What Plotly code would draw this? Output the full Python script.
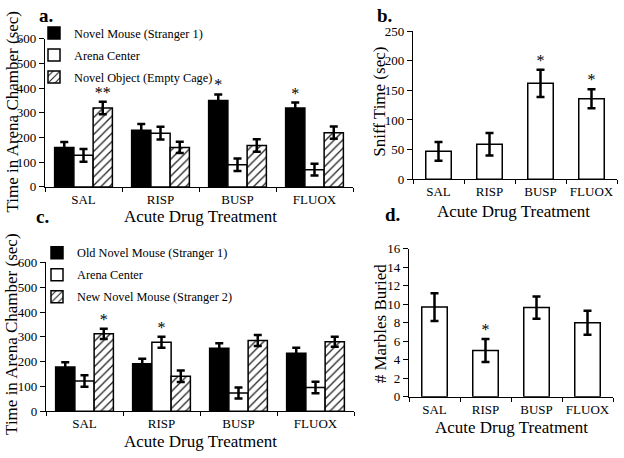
import numpy as np
import plotly.graph_objects as go

# ---------------- data ----------------
categories = ["SAL", "RISP", "BUSP", "FLUOX"]

# Panel a
a_names = ["Novel Mouse (Stranger 1)", "Arena Center", "Novel Object (Empty Cage)"]
a_mouse = [160, 230, 350, 320]
a_mouse_err = [22, 25, 25, 22]
a_center = [128, 218, 90, 70]
a_center_err = [26, 26, 25, 24]
a_object = [320, 160, 168, 220]
a_object_err = [25, 23, 25, 25]
a_marks_mouse = ["", "", "*", "*"]
a_marks_center = ["", "", "", ""]
a_marks_object = ["**", "", "", ""]

# Panel b
b_sniff = [47, 59, 162, 136]
b_sniff_err = [16, 19, 23, 16]
b_marks = ["", "", "*", "*"]

# Panel c
c_names = ["Old Novel Mouse (Stranger 1)", "Arena Center", "New Novel Mouse (Stranger 2)"]
c_old = [178, 192, 254, 234]
c_old_err = [20, 20, 20, 22]
c_center = [122, 278, 74, 96]
c_center_err = [23, 22, 22, 23]
c_new = [312, 141, 285, 280]
c_new_err = [21, 23, 22, 20]
c_marks_old = ["", "", "", ""]
c_marks_center = ["", "*", "", ""]
c_marks_new = ["*", "", "", ""]

# Panel d
d_marbles = [9.7, 5.0, 9.65, 8.0]
d_marbles_err = [1.5, 1.25, 1.2, 1.3]
d_marks = ["", "*", "", ""]

# ---------------- style ----------------
FONT = "Liberation Serif"
W, H = 624, 458
idx = np.arange(len(categories))
offsets = [-0.25, 0.0, 0.25]
grp_w = 0.25
single_w = 0.5

solid = dict(color="black", line=dict(color="black", width=1.5))
empty = dict(color="white", line=dict(color="black", width=1.5))
hatch = dict(color="white", line=dict(color="black", width=1.5),
             pattern=dict(shape="/", fgcolor="#222", bgcolor="white", size=6, solidity=0.22,
                          fillmode="replace"))
styles = [solid, empty, hatch]

def err(arr):
    return dict(type="data", array=arr, color="black", thickness=2.5, width=4)

fig = go.Figure()

def add_group(names, vals, errs, marks, xa, ya, legend):
    for k in range(3):
        xs = idx + offsets[k]
        fig.add_trace(go.Bar(x=xs, y=vals[k], width=grp_w, name=names[k], marker=styles[k],
                             error_y=err(errs[k]), xaxis=xa, yaxis=ya, legend=legend,
                             legendgroup=legend + str(k)))
        fig.add_trace(go.Scatter(x=xs, y=np.array(vals[k]) + np.array(errs[k]), mode="text",
                                 text=marks[k], textposition="top center",
                                 textfont=dict(family=FONT, size=16, color="black"),
                                 xaxis=xa, yaxis=ya, showlegend=False, hoverinfo="skip"))

def add_single(vals, errs, marks, xa, ya):
    fig.add_trace(go.Bar(x=idx, y=vals, width=single_w, marker=empty, error_y=err(errs),
                         xaxis=xa, yaxis=ya, showlegend=False))
    fig.add_trace(go.Scatter(x=idx, y=np.array(vals) + np.array(errs), mode="text",
                             text=marks, textposition="top center",
                             textfont=dict(family=FONT, size=16, color="black"),
                             xaxis=xa, yaxis=ya, showlegend=False, hoverinfo="skip"))

add_group(a_names, [a_mouse, a_center, a_object], [a_mouse_err, a_center_err, a_object_err],
          [a_marks_mouse, a_marks_center, a_marks_object], "x", "y", "legend")
add_single(b_sniff, b_sniff_err, b_marks, "x2", "y2")
add_group(c_names, [c_old, c_center, c_new], [c_old_err, c_center_err, c_new_err],
          [c_marks_old, c_marks_center, c_marks_new], "x3", "y3", "legend2")
add_single(d_marbles, d_marbles_err, d_marks, "x4", "y4")

def px_dom(a, b, total):
    return [a / total, b / total]

def ydom(bottom_px, top_px):
    return [1 - bottom_px / H, 1 - top_px / H]

tickfont = dict(family=FONT, size=13, color="black")

def xaxis(dom, anchor):
    return dict(domain=dom, anchor=anchor, range=[-0.5, 3.5], tickmode="array",
                tickvals=list(idx), ticktext=categories, ticks="", showline=True,
                linecolor="black", linewidth=1.2, tickfont=tickfont, showgrid=False,
                zeroline=False, fixedrange=True,
                minor=dict(tickmode="linear", tick0=-0.5, dtick=1, ticks="outside",
                           ticklen=4, tickcolor="black", tickwidth=1, showgrid=False))

def yaxis(dom, anchor, rng, dt):
    return dict(domain=dom, anchor=anchor, range=rng, dtick=dt, tick0=0, ticks="outside",
                ticklen=5, tickwidth=1.2, tickcolor="black", showline=True, linecolor="black",
                linewidth=1.2, tickfont=tickfont, showgrid=False, zeroline=False,
                fixedrange=True)

legfont = dict(family=FONT, size=12.3, color="black")

fig.update_layout(
    width=W, height=H, margin=dict(l=0, r=0, t=0, b=0),
    paper_bgcolor="white", plot_bgcolor="white",
    font=dict(family=FONT, color="black"),
    barmode="overlay",
    xaxis=xaxis(px_dom(45, 353, W), "y"),
    yaxis=yaxis(ydom(186, 33), "x", [0, 600], 100),
    xaxis2=xaxis(px_dom(413, 617, W), "y2"),
    yaxis2=yaxis(ydom(178, 25), "x2", [0, 250], 50),
    xaxis3=xaxis(px_dom(46, 354, W), "y3"),
    yaxis3=yaxis(ydom(418, 264), "x3", [0, 600], 100),
    xaxis4=xaxis(px_dom(409, 613, W), "y4"),
    yaxis4=yaxis(ydom(403, 250), "x4", [0, 16], 2),
    legend=dict(x=34 / W, y=1 - 12 / H, xanchor="left", yanchor="top",
                bgcolor="rgba(0,0,0,0)", font=legfont, tracegroupgap=3, itemwidth=30),
    legend2=dict(x=37 / W, y=1 - 239 / H, xanchor="left", yanchor="top",
                 bgcolor="rgba(0,0,0,0)", font=legfont, tracegroupgap=3, itemwidth=30),
)

def ann(text, x, y, size, angle=0, bold=False):
    fig.add_annotation(text=("<b>%s</b>" % text) if bold else text, x=x / W, y=1 - y / H,
                       xref="paper", yref="paper", showarrow=False, textangle=angle,
                       font=dict(family=FONT, size=size, color="black"),
                       xanchor="center", yanchor="middle")

ann("Time in Arena Chamber (sec)", 12, 109, 17, -90)
ann("Time in Arena Chamber (sec)", 12, 339, 17, -90)
ann("Sniff Time (sec)", 380, 98, 17, -90)
ann("# Marbles Buried", 380, 327, 17, -90)
ann("Acute Drug Treatment", 200, 217, 17)
ann("Acute Drug Treatment", 200, 449, 17)
ann("Acute Drug Treatment", 513, 211, 17)
ann("Acute Drug Treatment", 511, 435, 17)
ann("a.", 46, 9, 19, bold=True)
ann("b.", 384, 9, 19, bold=True)
ann("c.", 42, 217, 19, bold=True)
ann("d.", 392, 215, 19, bold=True)

fig.write_html("out.html", config={"displayModeBar": False},
               post_script="document.body.style.margin='0';document.body.style.overflow='hidden';")
